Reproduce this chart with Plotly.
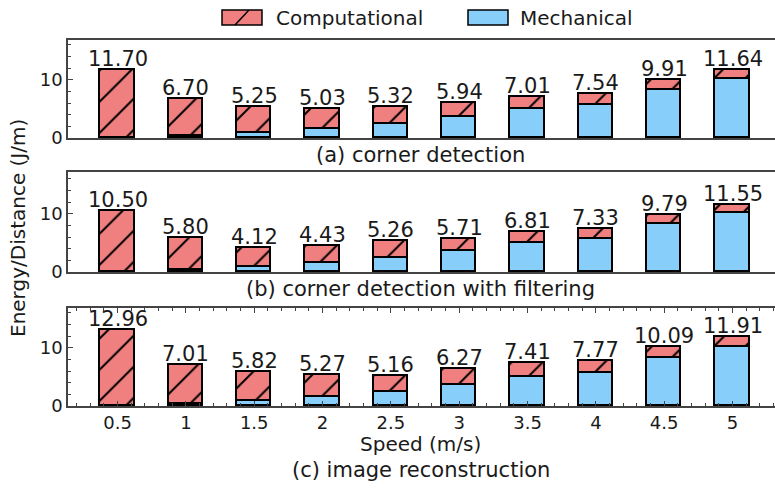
import plotly.graph_objects as go
from plotly.subplots import make_subplots

# Speeds (m/s) shown on the shared x axis
speeds = ["0.5", "1", "1.5", "2", "2.5", "3", "3.5", "4", "4.5", "5"]

# Mechanical energy per distance (J/m), same platform for every workload
mechanical = [0.0, 0.3, 0.85, 1.58, 2.48, 3.6, 4.93, 5.7, 8.2, 10.1]

# Total energy per distance (J/m) for each workload
total_corner = [11.70, 6.70, 5.25, 5.03, 5.32, 5.94, 7.01, 7.54, 9.91, 11.64]
total_filtering = [10.50, 5.80, 4.12, 4.43, 5.26, 5.71, 6.81, 7.33, 9.79, 11.55]
total_recon = [12.96, 7.01, 5.82, 5.27, 5.16, 6.27, 7.41, 7.77, 10.09, 11.91]

panels = [
    ("(a) corner detection", total_corner, [0, 16.8]),
    ("(b) corner detection with filtering", total_filtering, [0, 17.2]),
    ("(c) image reconstruction", total_recon, [0, 16.8]),
]

COMP_COLOR = "#F08080"
MECH_COLOR = "#87CEFA"
AXIS_COLOR = "#444444"
TEXT_COLOR = "#1a1a1a"
FONT = "DejaVu Sans"

W, H = 775, 488
L, R, T, B = 68, 0, 40, 82
PW, PH = W - L - R, H - T - B


def px_x(px):
    return (px - L) / PW


def px_y(py):
    return (H - B - py) / PH


fig = make_subplots(rows=3, cols=1)

x_idx = list(range(len(speeds)))
# no outline on empty mechanical segments
mech_edge = [1.6 if m > 0 else 0 for m in mechanical]

for row, (caption, totals, yr) in enumerate(panels, start=1):
    computational = [t - m for t, m in zip(totals, mechanical)]
    fig.add_trace(go.Bar(
        x=x_idx, y=mechanical, width=0.5, name="Mechanical",
        marker=dict(color=MECH_COLOR, line=dict(color="black", width=mech_edge)),
        showlegend=False, hoverinfo="skip",
    ), row=row, col=1)
    fig.add_trace(go.Bar(
        x=x_idx, y=computational, width=0.5, name="Computational",
        marker=dict(
            color=COMP_COLOR,
            line=dict(color="black", width=1.6),
            pattern=dict(shape="/", size=22, solidity=0.09,
                         fgcolor="black", fgopacity=1, bgcolor=COMP_COLOR),
        ),
        showlegend=False, hoverinfo="skip",
    ), row=row, col=1)
    # total value above every stack
    suffix = "" if row == 1 else str(row)
    for xi, t in zip(x_idx, totals):
        fig.add_annotation(
            x=xi, y=t, xref="x" + suffix, yref="y" + suffix,
            text=f"{t:.2f}", showarrow=False, yanchor="bottom", yshift=-3,
            font=dict(family=FONT, size=21, color=TEXT_COLOR),
        )

# panel domains (pixel rows of each axes box)
boxes = [(40, 138), (172, 272), (308, 406)]
for row, (top, bot) in enumerate(boxes, start=1):
    yname = "yaxis" if row == 1 else f"yaxis{row}"
    xname = "xaxis" if row == 1 else f"xaxis{row}"
    fig.layout[yname].update(
        domain=[px_y(bot), px_y(top)], range=panels[row - 1][2],
        showline=True, linecolor=AXIS_COLOR, linewidth=1.5, mirror=False,
        ticks="inside", ticklen=5, tickwidth=1.2, tickcolor=AXIS_COLOR,
        tickvals=[0, 10], ticktext=["0", "10"],
        minor=dict(dtick=2, tick0=0, ticks="inside", ticklen=3, tickwidth=1, tickcolor=AXIS_COLOR),
        showgrid=False, zeroline=False,
        tickfont=dict(family=FONT, size=18, color=TEXT_COLOR),
    )
    common_x = dict(
        domain=[0, 1], range=[-0.725, -0.725 + PW / 68.33],
        showline=True, linecolor=AXIS_COLOR, linewidth=1.5,
        showgrid=False, zeroline=False,
    )
    if row < 3:
        fig.layout[xname].update(**common_x, mirror=True, ticks="", showticklabels=False)
    else:
        fig.layout[xname].update(
            **common_x, mirror="ticks",
            tickvals=x_idx, ticktext=speeds,
            ticks="inside", ticklen=5, tickwidth=1.2, tickcolor=AXIS_COLOR,
            minor=dict(dtick=0.2, tick0=0, ticks="inside", ticklen=3, tickwidth=1, tickcolor=AXIS_COLOR),
            tickfont=dict(family=FONT, size=18, color=TEXT_COLOR),
        )


def paper_text(text, px, py, size, **kw):
    fig.add_annotation(x=px_x(px), y=px_y(py), xref="paper", yref="paper", text=text,
                       showarrow=False, yanchor="middle",
                       font=dict(family=FONT, size=size, color=TEXT_COLOR), **kw)


# panel captions and axis titles
cap_y = [155, 289, 470]
center_px = L + PW / 2 - 1
for (caption, _, _), cy in zip(panels, cap_y):
    paper_text(caption, center_px, cy, 21, xanchor="center")
paper_text("Speed (m/s)", center_px, 444, 20, xanchor="center")
paper_text("Energy/Distance (J/m)", 18, 228, 20, xanchor="center", textangle=-90)

# legend drawn at the top
legend_items = [
    ("Computational", COMP_COLOR, 222, 262, 274, True),
    ("Mechanical", MECH_COLOR, 468, 508, 518, False),
]
for label, color, x0, x1, tx, hatched in legend_items:
    fig.add_shape(type="rect", xref="paper", yref="paper",
                  x0=px_x(x0), x1=px_x(x1), y0=px_y(25), y1=px_y(10),
                  fillcolor=color, line=dict(color="black", width=1.5))
    if hatched:
        xm = (x0 + x1) / 2
        fig.add_shape(type="line", xref="paper", yref="paper",
                      x0=px_x(xm - 7), y0=px_y(25), x1=px_x(xm + 7), y1=px_y(10),
                      line=dict(color="black", width=1.5))
    paper_text(label, tx, 17.5, 20, xanchor="left")

fig.update_layout(
    width=W, height=H, barmode="stack", bargap=0,
    margin=dict(l=L, r=R, t=T, b=B),
    plot_bgcolor="white", paper_bgcolor="white",
    showlegend=False,
)

fig.write_html("out.html")
